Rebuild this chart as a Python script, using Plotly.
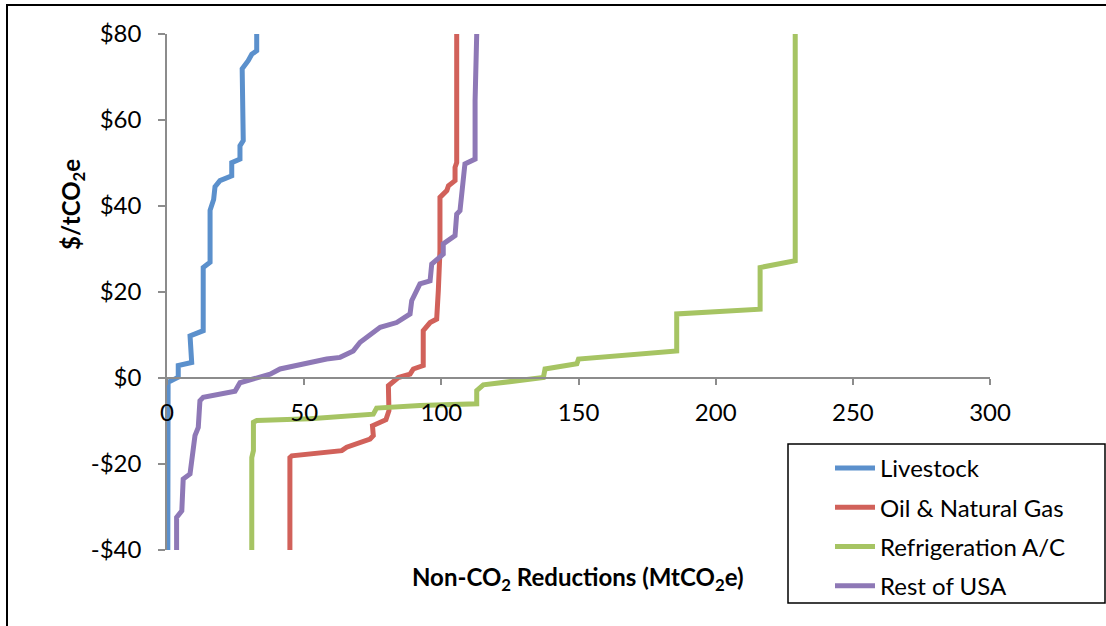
import plotly.graph_objects as go

# ---- data ----
livestock_x = [0.3, 0.4, 2.9, 4.1, 4.1, 9.0, 8.4, 13.2, 13.2, 15.7, 15.7, 17.0, 17.5, 19.3, 23.6, 23.6, 26.6, 26.6, 27.8, 27.4, 29.6, 30.9, 32.7, 32.7]
livestock_y = [-40, -1.0, -0.2, 0.2, 2.9, 3.6, 9.8, 11.0, 25.7, 26.9, 39.0, 41.5, 44.5, 45.9, 47.0, 50.1, 50.9, 54.0, 55.2, 71.9, 73.8, 75.3, 76.1, 80]

oil_x = [44.8, 44.8, 45.5, 63.7, 65.5, 74.0, 75.2, 74.9, 79.8, 80.9, 80.7, 84.3, 88.6, 89.8, 93.4, 93.4, 95.9, 98.3, 98.9, 99.5, 99.5, 102.0, 102.6, 105.0, 105.0, 105.6, 105.6]
oil_y = [-40, -18.5, -18.1, -16.9, -16.1, -14.2, -13.4, -11.1, -9.7, -7.6, -1.8, 0.1, 0.9, 2.1, 2.9, 11.0, 12.9, 13.7, 20.3, 29.6, 42.0, 43.6, 44.7, 45.9, 49.0, 50.1, 80]

refrig_x = [30.9, 30.9, 31.5, 31.5, 32.7, 52.1, 75.2, 76.4, 92.2, 112.9, 112.9, 115.3, 137.2, 137.8, 149.4, 150.0, 185.8, 185.8, 216.2, 216.2, 229.0, 229.0]
refrig_y = [-40, -18.5, -16.9, -10.3, -9.9, -9.5, -8.4, -7.0, -6.4, -6.0, -2.95, -1.6, 0.1, 2.1, 3.3, 4.4, 6.3, 14.9, 16.0, 25.7, 27.3, 80]

rest_x = [3.5, 3.5, 5.4, 5.9, 8.4, 9.6, 10.2, 11.4, 12.0, 13.2, 24.8, 26.6, 37.6, 41.2, 49.7, 58.2, 63.1, 67.9, 70.4, 77.7, 83.7, 88.6, 89.2, 92.2, 95.9, 96.5, 100.7, 100.7, 105.0, 105.6, 106.8, 108.0, 108.6, 112.3, 112.3, 112.9]
rest_y = [-40, -32.4, -30.9, -23.5, -22.3, -16.1, -13.4, -11.5, -5.3, -4.5, -3.1, -1.1, 0.9, 2.1, 3.3, 4.4, 4.8, 6.3, 8.3, 11.8, 12.9, 14.9, 18.0, 21.9, 22.6, 26.5, 28.8, 31.2, 33.1, 38.1, 38.9, 45.1, 49.8, 50.9, 64.5, 80]

series_names = ["Livestock", "Oil & Natural Gas", "Refrigeration A/C", "Rest of USA"]
series_colors = ["#5B90CC", "#D1615A", "#A6C463", "#8E78B6"]

x_tick_vals = [0, 50, 100, 150, 200, 250, 300]
y_tick_vals = [-40, -20, 0, 20, 40, 60, 80]
y_tick_text = ["-$40", "-$20", "$0", "$20", "$40", "$60", "$80"]

FONT = "Lato, 'Open Sans', sans-serif"

fig = go.Figure()
for i, (xs, ys) in enumerate([(livestock_x, livestock_y), (oil_x, oil_y),
                               (refrig_x, refrig_y), (rest_x, rest_y)]):
    fig.add_trace(go.Scatter(
        x=xs, y=ys, mode="lines", name=series_names[i],
        legendgroup=f"g{i}",
        line=dict(color=series_colors[i], width=5, shape="linear"),
    ))

W, H = 1106, 626
L, R, T, B = 167, 116, 34, 76
PW, PH = W - L - R, H - T - B


def px(xp):
    return (xp - L) / PW


def py(yp):
    return (H - B - yp) / PH


fig.update_layout(
    width=W, height=H,
    margin=dict(l=L, r=R, t=T, b=B, pad=0),
    paper_bgcolor="white", plot_bgcolor="white",
    font=dict(family=FONT, size=24, color="black"),
    showlegend=True,
    legend=dict(
        x=px(830), y=py(446), xanchor="left", yanchor="top",
        bgcolor="rgba(0,0,0,0)", borderwidth=0,
        font=dict(family=FONT, size=24, color="black"),
        traceorder="grouped", tracegroupgap=5,
        itemwidth=40,
    ),
    xaxis=dict(
        range=[0, 300], tickvals=x_tick_vals,
        showgrid=False, zeroline=False,
        showline=True, linecolor="#8C8C8C", linewidth=1.5,
        ticks="outside", ticklen=6, tickcolor="#8C8C8C", tickwidth=1.5,
        anchor="free", position=1/3,
        ticklabelstandoff=7,
        tickfont=dict(family=FONT, size=24, color="black"),
    ),
    yaxis=dict(
        range=[-40, 80], tickvals=y_tick_vals, ticktext=y_tick_text,
        showgrid=False, zeroline=False,
        showline=True, linecolor="#8C8C8C", linewidth=1.5,
        ticks="outside", ticklen=7, tickcolor="#8C8C8C", tickwidth=1.5,
        ticklabelstandoff=12,
        tickfont=dict(family=FONT, size=24, color="black"),
    ),
    shapes=[
        # outer chart frame
        dict(type="rect", xref="paper", yref="paper",
             x0=px(7), x1=px(1120), y0=py(640), y1=py(5),
             line=dict(color="black", width=2), fillcolor="rgba(0,0,0,0)", layer="below"),
        # legend box
        dict(type="rect", xref="paper", yref="paper",
             x0=px(788), x1=px(1105), y0=py(603), y1=py(444),
             line=dict(color="black", width=1.5), fillcolor="white", layer="above"),
    ],
    annotations=[
        dict(text="<b>$/tCO<sub>2</sub>e</b>", xref="paper", yref="paper",
             x=px(72), y=py(205), xanchor="center", yanchor="middle",
             textangle=-90, showarrow=False,
             font=dict(family=FONT, size=24, color="black")),
        dict(text="<b>Non-CO<sub>2</sub> Reductions (MtCO<sub>2</sub>e)</b>", xref="paper", yref="paper",
             x=px(578), y=py(578), xanchor="center", yanchor="middle",
             showarrow=False,
             font=dict(family=FONT, size=24, color="black")),
    ],
)

fig.write_html("out.html")
